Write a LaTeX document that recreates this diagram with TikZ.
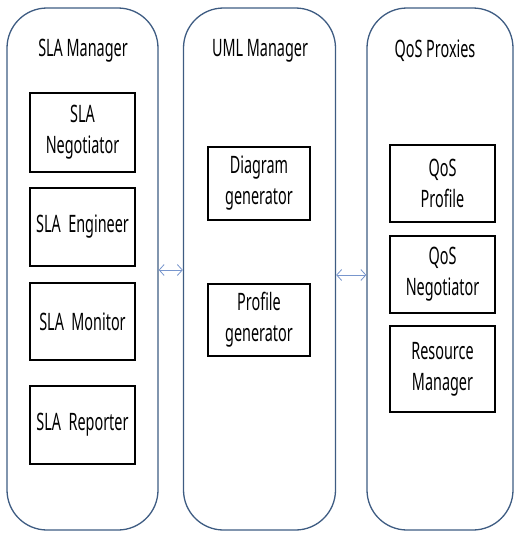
\documentclass[tikz,border=0pt]{standalone}
\usepackage{fontspec}
\setmainfont[FakeStretch=0.6]{Noto Sans}
\usetikzlibrary{arrows.meta}
\definecolor{frame}{RGB}{62,92,130}
\definecolor{link}{RGB}{120,150,205}
\tikzset{
  container/.style={draw=frame, line width=1.3pt, rounded corners=40pt, minimum width=#1, minimum height=522pt, inner sep=0pt},
  comp/.style={draw=black, line width=2pt, fill=white, align=center, inner sep=0pt, font=\fontsize{24}{31}\selectfont},
  title/.style={font=\fontsize{24}{31}\selectfont, inner sep=0pt},
  link/.style={draw=link, line width=0.8pt, {Straight Barb[length=5pt,width=11pt]}-{Straight Barb[length=5pt,width=11pt]}}
}
\begin{document}
\begin{tikzpicture}[x=1pt,y=-1pt]
\useasboundingbox (0,0) rectangle (515,533);
\node[container=151pt] (sla) at (82.5,269) {};
\node[container=152pt] (uml) at (259.5,269) {};
\node[container=146pt] (qos) at (440,269) {};
\node[title] (slat) at (83,51) {SLA Manager};
\node[title] (umlt) at (260,51) {UML Manager};
\node[title] (qost) at (435,51) {QoS Proxies};
\node[comp, minimum width=105pt, minimum height=79pt] (neg) at (82.5,132.5) {SLA\\Negotiator};
\node[comp, minimum width=105pt, minimum height=78pt] (eng) at (82.5,227) {SLA~~Engineer};
\node[comp, minimum width=105pt, minimum height=77pt] (mon) at (82.5,321.5) {SLA~~Monitor};
\node[comp, minimum width=105pt, minimum height=78pt] (rep) at (82.5,425) {SLA~~Reporter};
\node[comp, minimum width=102pt, minimum height=73pt] (dia) at (259,183.5) {Diagram\\generator};
\node[comp, minimum width=102pt, minimum height=72pt] (pro) at (259,320) {Profile\\generator};
\node[comp, minimum width=105pt, minimum height=77pt] (qpr) at (442.5,183.5) {QoS\\Profile};
\node[comp, minimum width=105pt, minimum height=77pt] (qne) at (442.5,274.5) {QoS\\Negotiator};
\node[comp, minimum width=105pt, minimum height=86pt] (res) at (442.5,369) {Resource\\Manager};
\draw[link] ([yshift=-1pt]sla.east) -- ([yshift=-1pt]uml.west);
\draw[link] ([yshift=-6pt]uml.east) -- ([yshift=-6pt]qos.west);
\end{tikzpicture}
\end{document}
